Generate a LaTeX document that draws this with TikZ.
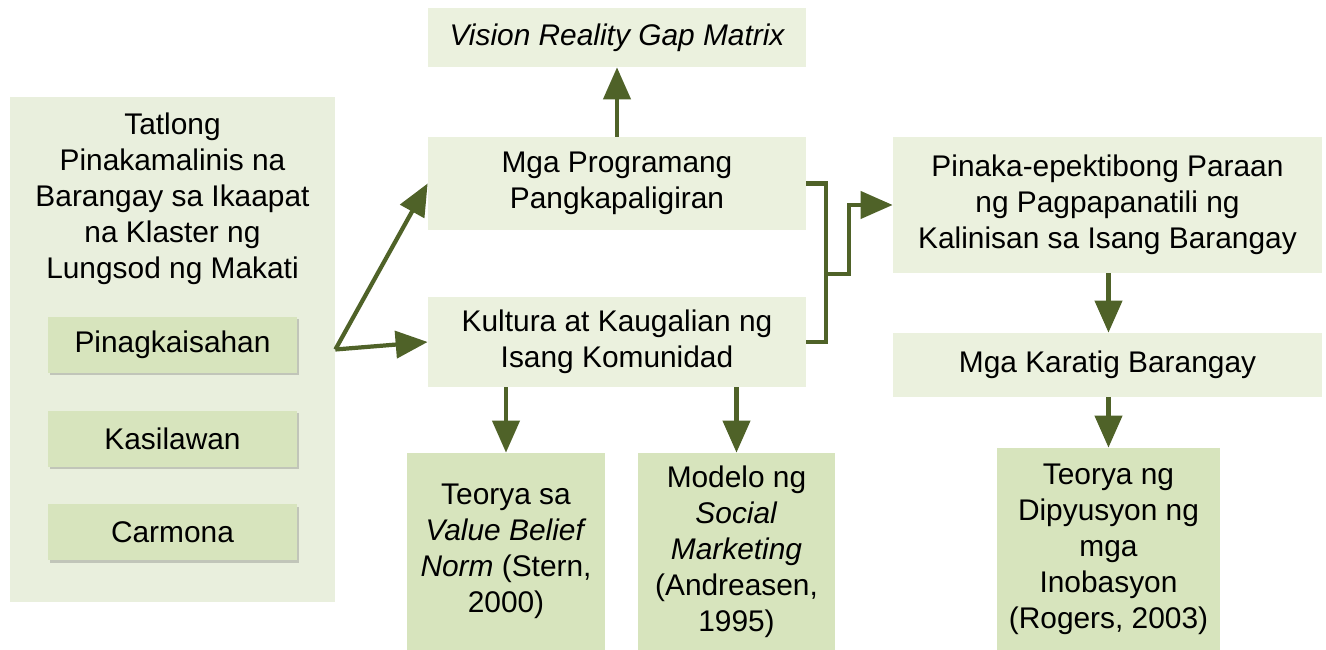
\documentclass[tikz,border=0pt]{standalone}
\usepackage{fontspec}
\setmainfont{Liberation Sans}
\usetikzlibrary{arrows.meta,positioning,shadows}
\definecolor{olivedk}{HTML}{4F6228}
\definecolor{palegreen}{HTML}{EBF1DE}
\definecolor{panelgreen}{HTML}{E9EFDD}
\definecolor{sagegreen}{HTML}{D7E4BD}

\begin{document}
\begin{tikzpicture}[
    node distance=0.74cm,
    txt/.style={align=center, inner sep=0pt, font=\fontsize{17}{20.5}\selectfont},
    box/.style={txt, rectangle, fill=palegreen, minimum width=7.56cm},
    wide/.style={txt, rectangle, fill=palegreen, minimum width=8.58cm},
    theory/.style={txt, rectangle, fill=sagegreen, minimum height=3.94cm},
    panel/.style={rectangle, fill=panelgreen, minimum width=6.5cm, minimum height=10.1cm},
    site/.style={txt, rectangle, fill=sagegreen, minimum width=4.98cm, minimum height=1.12cm,
        drop shadow={shadow xshift=0.04cm, shadow yshift=-0.05cm, opacity=0.3, fill=black!60}},
    line/.style={draw=olivedk, line width=2.4pt},
    arrow/.style={line, -{Triangle[length=0.64cm, width=0.54cm]}}
]
\useasboundingbox (0,0) rectangle (26.52,13);

% left panel
\node[panel] (panel) at (3.45,6.01) {};
\node[txt] (title) at (3.45,9.02) {Tatlong\\Pinakamalinis na\\Barangay sa Ikaapat\\na Klaster ng\\Lungsod ng Makati};
\node[site] (pinag) at (3.45,6.1) {Pinagkaisahan};
\node[site, below=of pinag] (kasil) {Kasilawan};
\node[site, below=of kasil] (carm) {Carmona};

% middle column
\node[box, minimum height=1.18cm] (vision) at (12.34,12.25) {\itshape Vision Reality Gap Matrix};
\node[box, minimum height=1.86cm] (mga) at (12.34,9.33) {Mga Programang\\Pangkapaligiran};
\node[box, minimum height=1.8cm] (kult) at (12.34,6.16) {Kultura at Kaugalian ng\\Isang Komunidad};
\node[theory, minimum width=3.96cm] (vbn) at (10.12,1.97) {Teorya sa\\\textit{Value Belief}\\\textit{Norm} (Stern,\\2000)};
\node[theory, minimum width=3.94cm] (social) at (14.73,1.97) {Modelo ng\\\textit{Social}\\\textit{Marketing}\\(Andreasen,\\1995)};

% right column
\node[wide, minimum height=2.72cm] (paraan) at (22.15,8.9) {Pinaka-epektibong Paraan\\ng Pagpapanatili ng\\Kalinisan sa Isang Barangay};
\node[wide, minimum height=1.28cm] (karatig) at (22.15,5.7) {Mga Karatig Barangay};
\node[theory, minimum width=4.46cm, minimum height=4.04cm] (difu) at (22.17,2.02) {Teorya ng\\Dipyusyon ng\\mga\\Inobasyon\\(Rogers, 2003)};

% connectors
\draw[arrow] (panel.east) -- (mga.west);
\draw[arrow] (panel.east) -- (kult.west);
\draw[arrow] (mga.north) -- (vision.south);
\draw[arrow] (vbn.north |- kult.south) -- (vbn.north);
\draw[arrow] (social.north |- kult.south) -- (social.north);

\coordinate (join) at (16.52,7.52);
\coordinate (join2) at (16.98,7.52);
\draw[line] (mga.east) -| (join) |- (kult.east);
\draw[arrow] (join) -- (join2) |- (paraan.west);

\draw[arrow] (paraan.south -| difu.north) -- (karatig.north -| difu.north);
\draw[arrow] (karatig.south -| difu.north) -- (difu.north);
\end{tikzpicture}
\end{document}
